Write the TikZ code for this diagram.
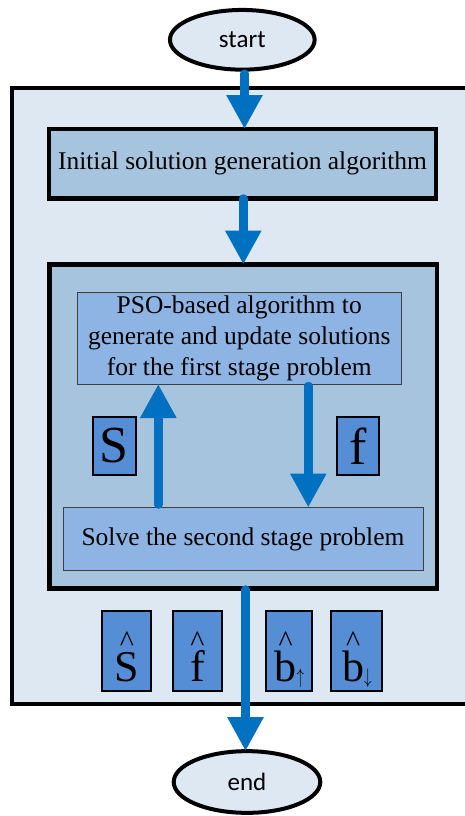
\documentclass[tikz,border=0pt]{standalone}
\usepackage{graphicx}
\usepackage{fontspec}
\setmainfont{Liberation Serif}
\newfontfamily\calfont{Carlito}
\usetikzlibrary{arrows.meta,shapes.geometric,calc}
\definecolor{paleblue}{HTML}{DDE8F3}
\definecolor{midblue}{HTML}{A7C4DE}
\definecolor{boxblue}{HTML}{8EB4E3}
\definecolor{symblue}{HTML}{558ED5}
\definecolor{arrblue}{HTML}{0070C0}
\definecolor{thinedge}{HTML}{3F3F3F}
\newcommand{\txtsize}{\fontsize{25.5}{31}\selectfont}
\newcommand{\hatover}[1]{\ooalign{#1\cr\hidewidth\raisebox{30pt}{\fontsize{30}{30}\selectfont\textasciicircum}\hidewidth\cr}}
\newcommand{\smallarr}[1]{\raisebox{-2pt}{\normalsize\scalebox{1.5}[2.1]{$#1$}}}
\begin{document}
\begin{tikzpicture}[x=1pt,y=-1pt,
  ell/.style={ellipse, draw=black, line width=4pt, fill=paleblue, inner sep=0pt, outer sep=0pt,
    font=\calfont\fontsize{25}{30}\selectfont},
  framebox/.style={rectangle, draw=black, line width=4pt, fill=paleblue, inner sep=0pt, outer sep=0pt},
  bigbox/.style={rectangle, draw=black, line width=4.5pt, fill=midblue, inner sep=0pt, outer sep=0pt,
    font=\txtsize},
  stepbox/.style={rectangle, draw=thinedge, line width=1pt, fill=boxblue, inner sep=0pt, outer sep=0pt,
    align=center, font=\txtsize},
  symbox/.style={rectangle, draw=black, line width=2pt, fill=symblue, inner sep=0pt, outer sep=0pt},
  bigsym/.style={symbox, font=\fontsize{52}{60}\selectfont},
  hatsym/.style={symbox, font=\fontsize{44}{50}\selectfont, text height=60pt, text depth=0pt,
    minimum height=79.7pt},
  arr/.style={draw=arrblue, line width=8.5pt, line cap=round, -{Triangle[width=34pt,length=34pt]}}
]
\useasboundingbox (0,0) rectangle (465,816);
\clip (0,0) rectangle (465,816);

% outer frame
\node[framebox, minimum width=468pt, minimum height=616.5pt] (frame) at (246,395.75) {};

% main boxes
\node[bigbox, minimum width=387pt, minimum height=69.5pt] (init) at (242.5,163.75)
  {Initial solution generation algorithm};
\node[bigbox, minimum width=387.5pt, minimum height=324pt] (loop) at (243.25,426.5) {};

\node[stepbox, minimum width=324.5pt, minimum height=91.5pt] (pso) at (239.25,338.25)
  {PSO-based algorithm to\\generate and update solutions\\for the first stage problem};
\node[stepbox, minimum width=360pt, minimum height=63pt] (solve) at (243,539)
  {Solve the second stage problem};

% symbols inside the loop
\node[bigsym, minimum width=43pt, minimum height=58.5pt] (sS) at (114,446) {S};
\node[bigsym, minimum width=42pt, minimum height=58.5pt] (sF) at (358,446) {f};

% hatted symbols
\node[hatsym, minimum width=49pt] (hS) at (126.8,651.2) {\hatover{S}\hspace{10pt}};
\node[hatsym, minimum width=49pt] (hF) at (197.5,651.2) {\hatover{f}\hspace{10pt}};
\node[hatsym, minimum width=46pt] (hBu) at (289.3,651.2) {\hatover{b}\smallarr{\uparrow}};
\node[hatsym, minimum width=51pt] (hBd) at (356.8,651.2) {\hatover{b}\smallarr{\downarrow}};

% terminals
\node[ell, minimum width=144.7pt, minimum height=59.7pt] (start) at (242.3,39.8) {start};
\node[ell, minimum width=146.6pt, minimum height=61.7pt] (end) at (247,782) {end};

% connectors
\coordinate (xa) at (244.5,0);
\coordinate (xb) at (243.3,0);
\coordinate (xc) at (245.5,0);
\coordinate (xu) at (158.3,0);
\coordinate (xd) at (308.3,0);
\draw[arr] ($(xa |- start.south)+(0,4)$) -- (xa |- init.north);
\draw[arr] (xb |- init.south) -- (xb |- loop.north);
\draw[arr] ($(xu |- solve.north)+(0,-3)$) -- (xu |- pso.south);
\draw[arr] ($(xd |- pso.south)+(0,2)$) -- (xd |- solve.north);
\draw[arr] ($(xc |- loop.south)+(0,1)$) -- (xc |- end.north);
\end{tikzpicture}
\end{document}
